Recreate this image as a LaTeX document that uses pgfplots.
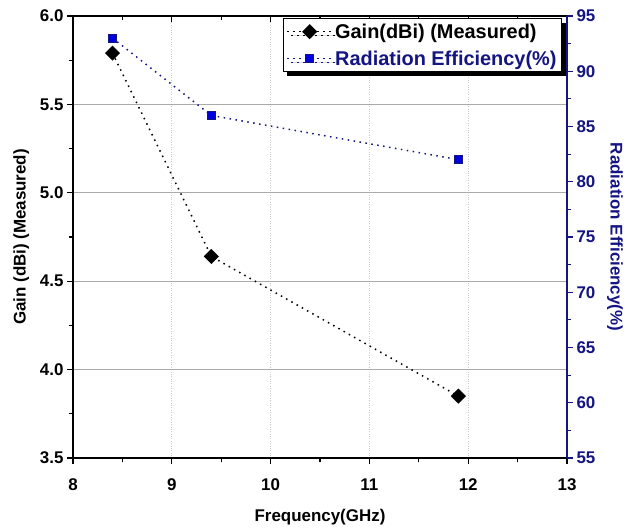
\documentclass[border=0pt]{standalone}
\usepackage{pgfplots}
\pgfplotsset{compat=1.18}
\usepackage{fontspec}
\setmainfont{Liberation Sans}
\usetikzlibrary{shadows}
\definecolor{navy}{RGB}{20,20,130}
\definecolor{sqblue}{RGB}{0,0,220}
\definecolor{gridgray}{RGB}{170,170,170}
\begin{document}
\begin{tikzpicture}
\pgfplotsset{
 common/.style={
  scale only axis, width=494bp, height=442bp,
  at={(0,0)}, anchor=south west,
  xmin=8, xmax=13,
  /pgf/number format/assume math mode=true,
  ticklabel style={font=\fontsize{17}{20}\selectfont\bfseries},
  label style={font=\fontsize{17}{20}\selectfont\bfseries},
  tick align=outside,
  major tick length=6bp, minor tick length=4bp,
  every tick/.style={line width=1.2bp},
  axis line style={line width=1.4bp},
 }
}
\begin{axis}[common,
  axis x line*=bottom, axis y line*=left,
  ymin=3.5, ymax=6.0,
  xtick={8,9,10,11,12,13}, minor x tick num=1,
  ytick={3.5,4.0,4.5,5.0,5.5,6.0}, minor y tick num=1,
  y tick label style={/pgf/number format/fixed, /pgf/number format/fixed zerofill, /pgf/number format/precision=1},
  x tick label style={yshift=-11bp},
  ymajorgrids, xmajorgrids,
  y grid style={gridgray, line width=1bp},
  x grid style={gray!40, dotted, line width=1bp},
  xlabel={Frequency(GHz)}, ylabel={Gain (dBi) (Measured)},
  xlabel shift=12bp, ylabel shift=4bp,
]
\addplot[black, line width=1.5bp, dash pattern=on 1.5bp off 4.5bp, mark=square*, mark size=4.6bp, mark options={solid, fill=black, rotate=45}]
 coordinates {(8.4,5.79) (9.4,4.64) (11.9,3.85)};
\end{axis}
\begin{axis}[common,
  axis x line*=top, axis y line*=right,
  xtick={8,9,10,11,12,13}, minor x tick num=1, xticklabels={},
  every major x tick/.append style={yshift=-6bp},
  every minor x tick/.append style={yshift=-4bp},
  ymin=55, ymax=95,
  ytick={55,60,65,70,75,80,85,90,95}, minor y tick num=1,
  y axis line style={navy},
  y tick style={navy},
  y tick label style={navy},
  ylabel={Radiation Efficiency(\%)},
  ylabel style={rotate=180, navy},
  ylabel shift=5bp,
  legend style={at={(rel axis cs:0.99,0.995)}, anchor=north east, draw=black, fill=white,
    font=\fontsize{20}{23}\selectfont\bfseries, line width=1bp,
    drop shadow={shadow xshift=4bp, shadow yshift=-4bp, fill=black, opacity=1},
    row sep=7bp, inner sep=3bp},
  legend cell align=left,
  legend image code/.code={\draw[mark repeat=2,mark phase=2] plot coordinates {(0cm,0cm) (0.8cm,0cm) (1.6cm,0cm)};},
]
\addlegendimage{black, line width=1.5bp, dash pattern=on 1.5bp off 4.5bp, mark=square*, mark size=4.6bp, mark options={solid, fill=black, rotate=45}}
\addlegendentry{Gain(dBi) (Measured)}
\addplot[navy, line width=1.5bp, dash pattern=on 1.5bp off 4.5bp, mark=square*, mark size=4bp, mark options={solid, fill=sqblue, draw=navy, line width=0.8bp}]
 coordinates {(8.4,93.0) (9.4,86.0) (11.9,82.0)};
\addlegendentry{\textcolor{navy}{Radiation Efficiency(\%)}}
\end{axis}
\pgfresetboundingbox
\useasboundingbox (-73bp,-71bp) rectangle (555bp,458bp);
\end{tikzpicture}
\end{document}
